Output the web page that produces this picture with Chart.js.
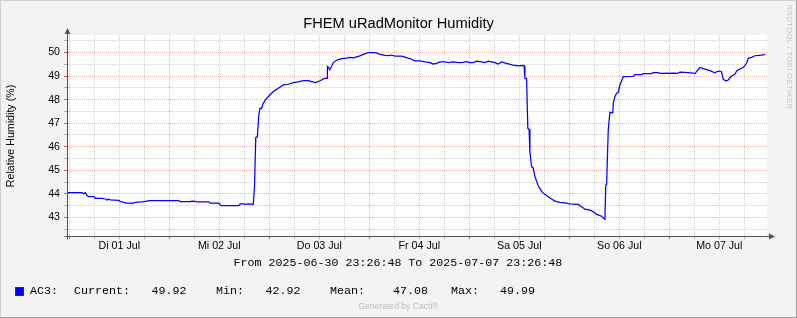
<!DOCTYPE html>
<html>
<head>
<meta charset="utf-8">
<script src="https://cdn.jsdelivr.net/npm/chart.js@4.4.1/dist/chart.umd.min.js"></script>
<style>
  html, body { margin: 0; padding: 0; background: #f3f3f3; }
  #wrap { position: relative; width: 797px; height: 318px; overflow: hidden; background: #f3f3f3; }
  #frame { position: absolute; left: 0; top: 0; width: 797px; height: 318px; box-sizing: border-box;
           border-top: 1px solid #cfcfcf; border-left: 1px solid #cfcfcf;
           border-right: 1px solid #9e9e9e; border-bottom: 1px solid #9e9e9e; pointer-events: none; }
  canvas { position: absolute; left: 0; top: 0; }
  .txt { position: absolute; white-space: pre; line-height: 1; }
  .sans { font-family: "Liberation Sans", Arial, sans-serif; color: #000; }
  .mono { font-family: "Liberation Mono", "Courier New", monospace; font-size: 11.67px; color: #000; }
</style>
</head>
<body>
<div id="wrap">
  <canvas id="c" width="797" height="318"></canvas>
  <div class="txt sans" style="left:0;width:797px;text-align:center;top:15.9px;font-size:14.67px;">FHEM uRadMonitor Humidity</div>
  <div class="txt sans" style="left:9.9px;top:136px;font-size:10.67px;transform:translate(-50%,-50%) rotate(-90deg);">Relative Humidity (%)</div>
  <div class="txt mono" style="left:233.5px;top:257.8px;">From 2025-06-30 23:26:48 To 2025-07-07 23:26:48</div>
  <div style="position:absolute;left:15px;top:287px;width:9px;height:9px;box-sizing:border-box;background:#0000ff;border:1px solid #333;"></div>
  <div id="legend"></div>
  <div class="txt sans" style="left:0;width:797px;text-align:center;top:302.2px;font-size:8.6px;color:#bdbdbd;">Generated by Cacti®</div>
  <div class="txt sans" style="left:788.7px;top:56.5px;font-size:7.6px;color:#c4c4c4;letter-spacing:0.4px;transform:translate(-50%,-50%) rotate(90deg);">RRDTOOL / TOBI OETIKER</div>
  <div id="frame"></div>
</div>
<script>
// ---- data (hours since 2025-06-30 23:26:48) ----
const hours = [
  0.0, 3.6, 4.0, 4.4, 4.8, 5.2, 6.4, 6.8, 8.4, 9.2, 9.6, 10.0, 10.4, 12.4, 12.8, 13.6, 14.0, 16.0, 16.4, 18.0,
  19.2, 19.6, 26.8, 27.2, 29.6, 30.0, 30.8, 31.2, 34.0, 34.4, 36.4, 37.0, 41.2, 41.6, 42.4, 42.8, 43.6, 44.7,
  45.0, 45.3, 45.7, 46.0, 46.3, 46.7, 47.1, 47.7, 48.3, 49.1, 49.9, 50.7, 51.9, 53.1, 54.3, 55.5, 56.7, 57.9,
  58.7, 59.7, 60.7, 61.8, 62.4, 62.5, 62.9, 63.1, 63.5, 63.9, 64.7, 65.9, 67.1, 67.9, 68.7, 69.5, 70.3, 71.1,
  72.3, 73.5, 74.3, 75.1, 76.3, 77.1, 77.9, 78.7, 80.3, 81.5, 82.7, 83.5, 84.7, 85.9, 87.1, 87.9, 88.7, 89.5,
  90.7, 91.5, 92.7, 93.9, 95.1, 95.9, 96.7, 97.5, 98.3, 99.5, 100.3, 101.1, 101.9, 102.7, 103.5, 104.3, 105.4,
  106.2, 107.0, 108.2, 109.5, 109.7, 109.9, 110.3, 110.6, 110.9, 111.1, 111.5, 111.9, 112.2, 112.7, 113.1,
  113.5, 114.1, 114.7, 115.5, 116.3, 117.1, 118.3, 119.5, 120.7, 122.7, 123.5, 124.3, 125.5, 126.3, 127.1,
  128.2, 129.1, 129.3, 129.5, 129.9, 130.3, 131.0, 131.1, 131.5, 131.9, 132.3, 132.7, 133.1, 133.5, 135.9,
  136.3, 137.9, 138.3, 140.3, 140.7, 141.9, 142.3, 145.9, 146.3, 147.1, 148.3, 150.3, 150.7, 151.9, 153.1,
  154.3, 155.5, 155.9, 156.6, 157.1, 157.5, 158.2, 158.7, 159.5, 160.3, 160.7, 161.5, 162.3, 163.1, 163.5,
  164.3, 165.1, 166.7, 167.5
];
const humidity = [
  44.05, 44.05, 44.00, 44.05, 43.93, 43.88, 43.88, 43.81, 43.81, 43.78, 43.74, 43.77, 43.74, 43.72, 43.67, 43.65, 43.60, 43.60, 43.64, 43.66,
  43.69, 43.71, 43.71, 43.67, 43.67, 43.69, 43.68, 43.66, 43.66, 43.60, 43.60, 43.50, 43.50, 43.57, 43.57, 43.55, 43.57, 43.55,
  44.28, 46.38, 46.42, 47.27, 47.63, 47.63, 47.84, 48.01, 48.12, 48.27, 48.39, 48.48, 48.62, 48.65, 48.72, 48.75, 48.80, 48.80,
  48.76, 48.72, 48.80, 48.90, 48.90, 49.40, 49.33, 49.29, 49.40, 49.57, 49.67, 49.74, 49.76, 49.79, 49.77, 49.81, 49.85, 49.92,
  49.99, 49.99, 49.98, 49.92, 49.88, 49.87, 49.89, 49.84, 49.84, 49.78, 49.71, 49.64, 49.64, 49.60, 49.57, 49.51, 49.54, 49.60,
  49.60, 49.57, 49.60, 49.57, 49.58, 49.61, 49.57, 49.57, 49.63, 49.60, 49.57, 49.63, 49.60, 49.57, 49.51, 49.60, 49.54,
  49.50, 49.46, 49.43, 49.45, 49.43, 48.90, 48.88, 46.78, 46.75, 45.79, 45.15, 45.10, 44.80, 44.54, 44.34,
  44.23, 44.06, 43.98, 43.88, 43.78, 43.69, 43.64, 43.62, 43.57, 43.55, 43.45, 43.35, 43.31, 43.24, 43.13,
  43.06, 42.92, 44.37, 44.40, 46.71, 47.46, 47.44, 47.84, 48.12, 48.27, 48.30, 48.62, 48.79, 48.97, 48.98,
  49.06, 49.06, 49.10, 49.10, 49.14, 49.14, 49.11, 49.12, 49.10, 49.16, 49.15, 49.12, 49.10, 49.36, 49.29,
  49.23, 49.14, 49.18, 49.21, 49.17, 48.86, 48.79, 48.83, 49.00, 49.07, 49.21, 49.30, 49.36, 49.54, 49.75,
  49.79, 49.86, 49.89, 49.92
];
const dayLabels = ['Di 01 Jul', 'Mi 02 Jul', 'Do 03 Jul', 'Fr 04 Jul', 'Sa 05 Jul', 'So 06 Jul', 'Mo 07 Jul'];
const xTickHours = [];            // every 6 h starting at first midnight (00:00 Jul 01)
for (let k = 0; k < 28; k++) xTickHours.push(0.5533 + 6 * k);
const yTickValues = [42.5, 43, 43.5, 44, 44.5, 45, 45.5, 46, 46.5, 47, 47.5, 48, 48.5, 49, 49.5, 50, 50.5];
const legendLabels = ['AC3:', 'Current:', 'Min:', 'Mean:', 'Max:'];
const legendStats = ['49.92', '42.92', '47.08', '49.99'];

// ---- legend text (real text) ----
(function () {
  const pos = [[30, legendLabels[0]], [74, legendLabels[1]], [151.5, legendStats[0]], [216, legendLabels[2]],
               [265.5, legendStats[1]], [330, legendLabels[3]], [393, legendStats[2]], [451, legendLabels[4]], [500, legendStats[3]]];
  const el = document.getElementById('legend');
  pos.forEach(([x, t]) => {
    const d = document.createElement('div');
    d.className = 'txt mono';
    d.style.left = x + 'px';
    d.style.top = '285.8px';
    d.textContent = t;
    el.appendChild(d);
  });
})();

const RED = 'rgba(220,70,70,0.42)';
const GREY = 'rgba(150,150,150,0.45)';
const AXIS = '#4d5a57';

const bgPlugin = {
  id: 'bg',
  beforeDraw(chart) {
    const { ctx, chartArea: a } = chart;
    ctx.save();
    ctx.fillStyle = '#ffffff';
    ctx.fillRect(a.left, a.top, a.right - a.left, a.bottom - a.top);
    ctx.restore();
  },
  afterDraw(chart) {
    const { ctx, chartArea: a } = chart;
    const l = Math.round(a.left) + 0.5, b = Math.round(a.bottom) + 0.5;
    const r = Math.round(a.right), t = Math.round(a.top);
    ctx.save();
    ctx.strokeStyle = AXIS; ctx.fillStyle = AXIS; ctx.lineWidth = 1;
    ctx.beginPath();
    ctx.moveTo(l, b + 3); ctx.lineTo(l, t - 2);
    ctx.moveTo(l - 3, b); ctx.lineTo(r + 2, b);
    ctx.stroke();
    ctx.beginPath();
    ctx.moveTo(l, t - 7); ctx.lineTo(l - 3, t - 1); ctx.lineTo(l + 3, t - 1); ctx.closePath(); ctx.fill();
    ctx.beginPath();
    ctx.moveTo(r + 8, b); ctx.lineTo(r + 2, b - 3); ctx.lineTo(r + 2, b + 3); ctx.closePath(); ctx.fill();
    ctx.restore();
  }
};

new Chart(document.getElementById('c'), {
  type: 'line',
  data: {
    datasets: [{
      label: 'AC3',
      data: hours.map((h, i) => ({ x: h, y: humidity[i] })),
      borderColor: '#0000ff',
      borderWidth: 1.25,
      pointRadius: 0,
      tension: 0,
      fill: false
    }]
  },
  options: {
    responsive: false,
    animation: false,
    events: [],
    layout: { padding: { left: 0, top: 35, right: 30, bottom: 0 } },
    plugins: { legend: { display: false }, title: { display: false }, tooltip: { enabled: false } },
    scales: {
      x: {
        type: 'linear', min: 0, max: 168,
        afterBuildTicks: s => { s.ticks = xTickHours.map(v => ({ value: v })); },
        afterFit: s => { s.height = 82; },
        ticks: {
          autoSkip: false, maxRotation: 0, minRotation: 0, padding: 1, color: '#000',
          font: { family: 'Liberation Sans', size: 10.67 },
          callback: (v, i) => (i % 4 === 2 ? dayLabels[(i - 2) / 4] : '')
        },
        grid: {
          color: c => (c.index % 4 === 0 ? RED : GREY),
          tickColor: c => (c.index % 4 === 0 ? 'rgba(220,60,60,0.85)' : 'rgba(150,150,150,0.7)'),
          tickLength: 3, lineWidth: 1, tickBorderDash: []
        },
        border: { display: true, color: AXIS, dash: [1, 1] }
      },
      y: {
        type: 'linear', min: 42.21, max: 50.74,
        afterBuildTicks: s => { s.ticks = yTickValues.map(v => ({ value: v })); },
        afterFit: s => { s.width = 67; },
        ticks: {
          autoSkip: false, padding: 4, color: '#000',
          font: { family: 'Liberation Sans', size: 10.67 },
          callback: v => (Number.isInteger(v) ? String(v) : '')
        },
        grid: {
          color: c => (Number.isInteger(c.tick.value) ? RED : GREY),
          tickColor: c => (Number.isInteger(c.tick.value) ? 'rgba(220,60,60,0.85)' : 'rgba(150,150,150,0.7)'),
          tickLength: 3, lineWidth: 1, tickBorderDash: []
        },
        border: { display: true, color: AXIS, dash: [1, 1] }
      }
    }
  },
  plugins: [bgPlugin]
});
</script>
</body>
</html>
